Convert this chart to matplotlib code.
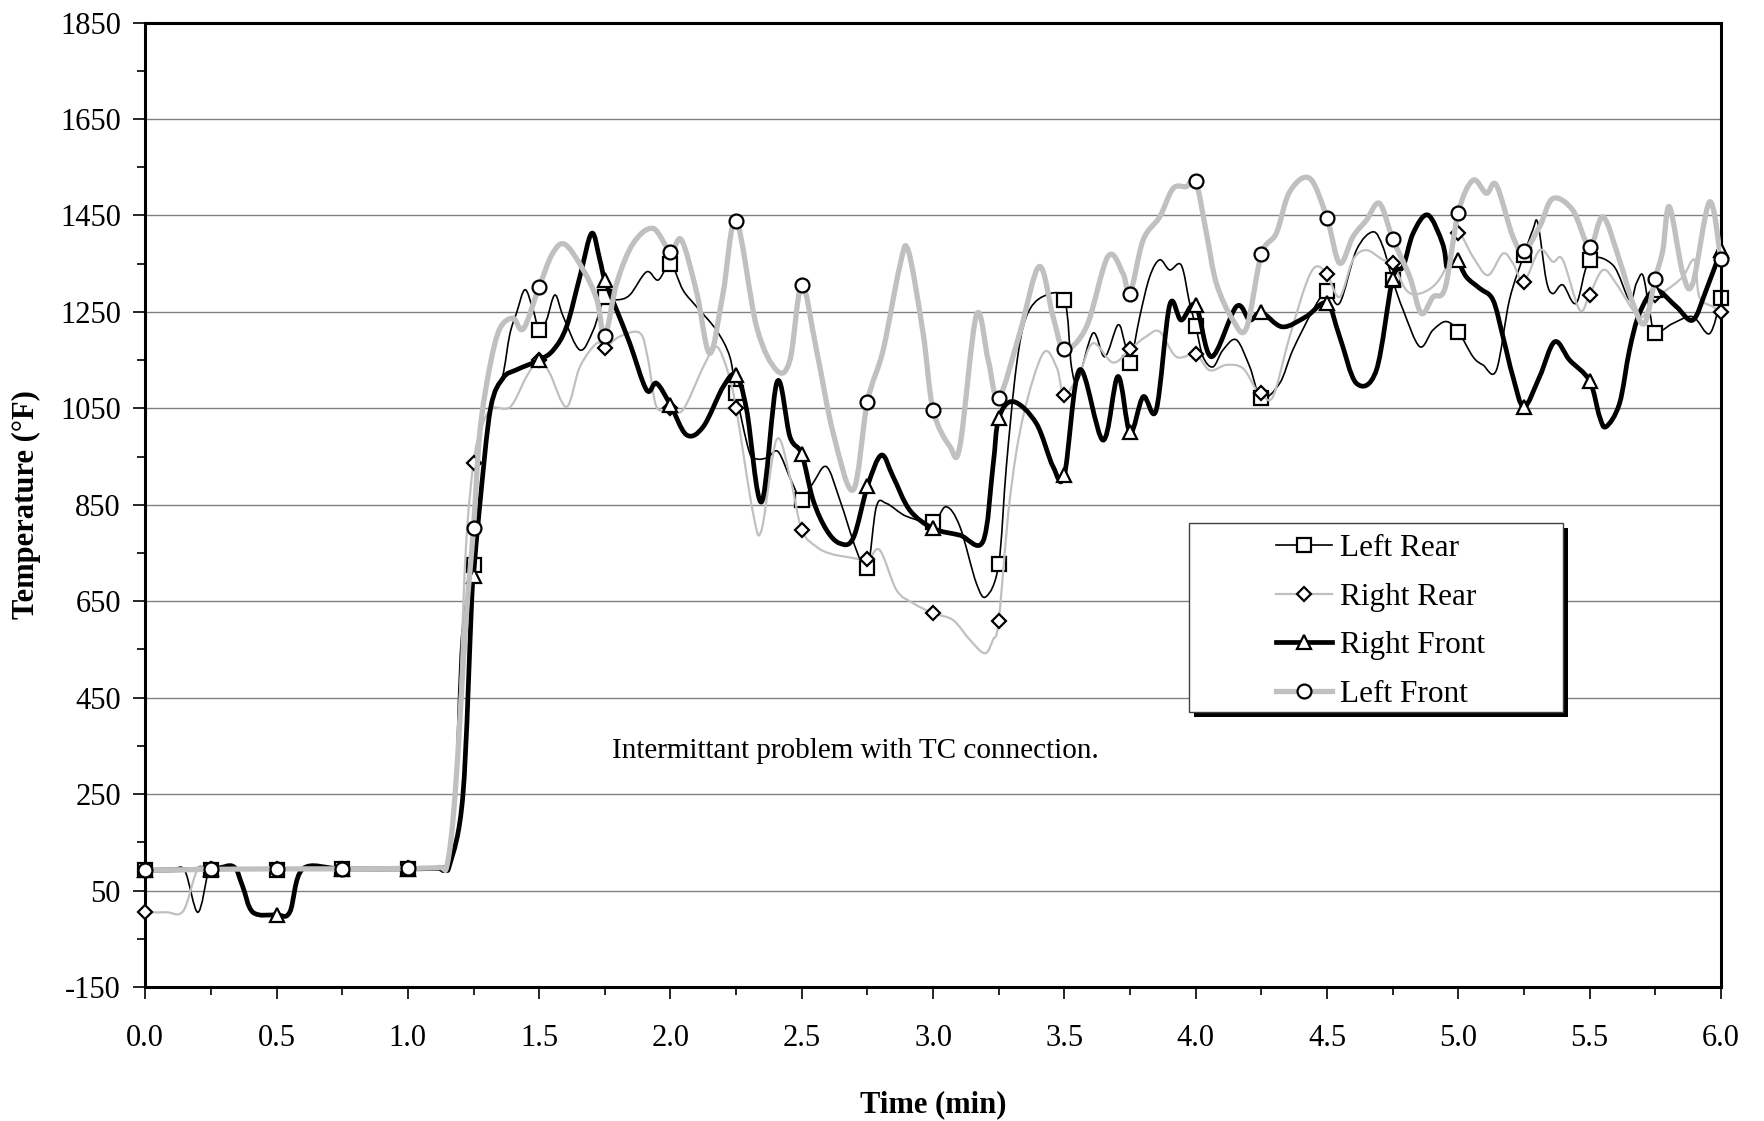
import numpy as np
import matplotlib
matplotlib.use("Agg")
from matplotlib import pyplot as plt
from matplotlib.path import Path
from matplotlib.patches import PathPatch, Rectangle
from matplotlib.lines import Line2D

# 时间 (min) 与温度 (°F) 数据
marker_t = [0.0, 0.25, 0.5, 0.75, 1.0, 1.25, 1.5, 1.75, 2.0, 2.25, 2.5, 2.75, 3.0,
            3.25, 3.5, 3.75, 4.0, 4.25, 4.5, 4.75, 5.0, 5.25, 5.5, 5.75, 6.0]

lr_marks = [92, 92, 93, 94, 95, 726, 1212, 1281, 1349, 1081, 860, 718, 815,
            727, 1275, 1143, 1221, 1071, 1294, 1316, 1209, 1368, 1357, 1207, 1278]
rr_marks = [5, 95, 95, 95, 96, 937, 1150, 1176, 1050, 1050, 798, 737, 625,
            610, 1078, 1173, 1162, 1081, 1328, 1351, 1413, 1313, 1286, 1285, 1250]
rf_marks = [92, 95, 0, 95, 95, 703, 1150, 1316, 1057, 1119, 955, 888, 801,
            1029, 912, 1000, 1264, 1249, 1268, 1319, 1357, 1053, 1107, 1295, 1378]
lf_marks = [92, 94, 95, 95, 96, 802, 1302, 1200, 1375, 1439, 1306, 1064, 1047,
            1072, 1173, 1288, 1522, 1369, 1445, 1402, 1456, 1376, 1385, 1319, 1359]

# Left Rear
lr_t = [0, 0.10, 0.15, 0.20, 0.24, 0.25, 0.35, 0.5, 0.75, 1.0, 1.10, 1.15, 1.18, 1.204,
        1.25, 1.274, 1.315, 1.36, 1.388, 1.414, 1.446, 1.477, 1.5, 1.528, 1.56, 1.592,
        1.655, 1.706, 1.75, 1.795, 1.845, 1.909, 1.953, 2.0, 2.048, 2.099, 2.175, 2.226,
        2.25, 2.30, 2.33, 2.37, 2.41, 2.46, 2.5, 2.543, 2.594, 2.645, 2.708, 2.75, 2.784,
        2.822, 2.899, 3.0, 3.05, 3.102, 3.165, 3.203, 3.25, 3.279, 3.317, 3.355, 3.419,
        3.5, 3.527, 3.552, 3.609, 3.654, 3.704, 3.73, 3.75, 3.787, 3.825, 3.863, 3.901,
        3.945, 3.977, 4.0, 4.028, 4.066, 4.104, 4.155, 4.206, 4.25, 4.32, 4.37, 4.447,
        4.5, 4.548, 4.612, 4.675, 4.713, 4.75, 4.79, 4.853, 4.903, 4.954, 5.0, 5.056,
        5.094, 5.145, 5.195, 5.25, 5.284, 5.303, 5.335, 5.36, 5.398, 5.449, 5.5, 5.589,
        5.652, 5.678, 5.703, 5.728, 5.75, 5.817, 5.893, 5.957, 6.0]
lr_v = [92, 93, 92, 5, 90, 92, 95, 93, 94, 95, 97, 100, 250, 574,
        726, 850, 1050, 1115, 1203, 1248, 1296, 1254, 1212, 1233, 1285, 1240,
        1171, 1212, 1281, 1275, 1285, 1333, 1316, 1349, 1295, 1261, 1212, 1157,
        1081, 960, 945, 948, 960, 900, 860, 895, 929, 860, 756, 718, 846,
        853, 826, 815, 846, 805, 687, 660, 727, 929, 1136, 1240, 1282,
        1275, 1136, 1109, 1206, 1157, 1223, 1185, 1143, 1240, 1323, 1358, 1337,
        1347, 1268, 1221, 1157, 1136, 1171, 1192, 1136, 1071, 1102, 1171, 1254,
        1294, 1268, 1378, 1416, 1385, 1316, 1254, 1178, 1212, 1230, 1209, 1157,
        1140, 1129, 1275, 1368, 1420, 1434, 1316, 1288, 1306, 1268, 1357, 1347,
        1275, 1309, 1326, 1254, 1207, 1226, 1240, 1205, 1278]

# Right Rear
rr_t = [0, 0.08, 0.145, 0.20, 0.25, 0.5, 0.75, 1.0, 1.12, 1.16, 1.19, 1.22, 1.25, 1.28,
        1.32, 1.39, 1.452, 1.5, 1.54, 1.604, 1.655, 1.719, 1.75, 1.807, 1.884, 1.915,
        1.947, 2.0, 2.048, 2.125, 2.175, 2.22, 2.25, 2.315, 2.347, 2.404, 2.455, 2.5,
        2.556, 2.607, 2.67, 2.75, 2.797, 2.861, 2.924, 3.0, 3.076, 3.14, 3.197, 3.228,
        3.25, 3.292, 3.343, 3.419, 3.47, 3.5, 3.558, 3.609, 3.685, 3.75, 3.812, 3.863,
        3.926, 4.0, 4.053, 4.117, 4.18, 4.231, 4.25, 4.294, 4.358, 4.421, 4.459, 4.5,
        4.548, 4.599, 4.65, 4.713, 4.75, 4.802, 4.853, 4.916, 4.967, 5.0, 5.056, 5.113,
        5.17, 5.208, 5.25, 5.31, 5.36, 5.398, 5.462, 5.5, 5.551, 5.601, 5.665, 5.703,
        5.75, 5.792, 5.855, 5.899, 5.918, 5.969, 6.0]
rr_v = [5, 5, 8, 95, 95, 95, 95, 96, 97, 110, 350, 750, 937, 1010,
        1050, 1053, 1116, 1150, 1123, 1053, 1136, 1185, 1176, 1199, 1206, 1150,
        1053, 1050, 1047, 1136, 1178, 1123, 1050, 832, 798, 985, 908, 798,
        763, 749, 742, 737, 756, 673, 646, 625, 611, 570, 542, 570,
        610, 860, 1033, 1164, 1136, 1078, 1123, 1185, 1145, 1173, 1199, 1209,
        1157, 1162, 1129, 1140, 1133, 1088, 1081, 1074, 1199, 1309, 1344, 1328,
        1281, 1358, 1378, 1358, 1351, 1295, 1288, 1309, 1358, 1413, 1364, 1326,
        1371, 1351, 1313, 1378, 1354, 1358, 1254, 1286, 1337, 1309, 1254, 1240,
        1285, 1295, 1323, 1358, 1281, 1261, 1250]

# Right Front (nan = 断线)
rf_t = [0, 0.25, 0.335, 0.37, 0.41, 0.5, 0.55, 0.60, 0.75, 1.0, 1.13, 1.16, 1.21, 1.243,
        1.25, 1.274, 1.315, 1.363, 1.414, 1.5, 1.554, 1.604, 1.655, 1.70, 1.731, 1.75,
        1.795, 1.845, 1.909, 1.947, 2.0, 2.061, 2.125, 2.201, 2.25, 2.29, 2.347, 2.406,
        2.455, 2.5, 2.543, 2.594, 2.645, 2.696, 2.75, 2.803, 2.848, 2.911, 3.0, 3.102,
        3.19, 3.228, 3.25, 3.305, 3.393, 3.457, 3.5, 3.558, 3.647, 3.704, 3.75, 3.80,
        3.85, 3.901, 3.945, 4.0, 4.06, 4.155, 4.206, 4.25, 4.33, 4.42, 4.5, 4.548,
        4.612, 4.688, 4.75, 4.79, 4.828, 4.884, 4.94, 4.955, 4.975, 5.0, 5.03, 5.081,
        5.132, 5.17, 5.208, 5.25, 5.31, 5.367, 5.424, 5.5, 5.538, 5.563, 5.614, 5.652,
        5.69, 5.75, 5.83, 5.893, 5.944, 6.0]
rf_v = [92, 95, 100, 60, 5, 0, 5, 95, 95, 95, 97, 105, 250, 650,
        703, 850, 1050, 1113, 1130, 1150, 1171, 1219, 1323, 1413, 1358, 1316,
        1254, 1185, 1088, 1102, 1057, 995, 1012, 1095, 1119, 1047, 856, 1105,
        991, 955, 860, 798, 770, 781, 888, 953, 908, 839, 801, 787,
        774, 929, 1029, 1064, 1019, 929, 912, 1130, 984, 1116, 1000, 1074,
        1047, 1264, 1233, 1264, 1157, 1261, 1233, 1249, 1219, 1240, 1268, 1199,
        1102, 1129, 1319, 1344, 1413, 1451, 1392, 1344, np.nan, 1357, 1323, 1299,
        1275, 1199, 1116, 1053, 1116, 1188, 1150, 1107, 1033, 1012, 1060, 1171,
        1247, 1295, 1261, 1233, 1295, 1378]

# Left Front
lf_t = [0, 0.25, 0.5, 0.75, 1.0, 1.12, 1.15, 1.18, 1.22, 1.25, 1.274, 1.312, 1.35, 1.40,
        1.44, 1.5, 1.55, 1.598, 1.668, 1.72, 1.75, 1.795, 1.858, 1.934, 2.0, 2.042,
        2.10, 2.15, 2.20, 2.25, 2.328, 2.404, 2.455, 2.5, 2.556, 2.62, 2.696, 2.75,
        2.81, 2.873, 2.905, 2.962, 3.0, 3.064, 3.102, 3.165, 3.21, 3.25, 3.33, 3.404,
        3.457, 3.5, 3.584, 3.666, 3.723, 3.75, 3.80, 3.863, 3.914, 3.965, 4.0, 4.041,
        4.079, 4.142, 4.193, 4.25, 4.307, 4.358, 4.434, 4.5, 4.548, 4.599, 4.65, 4.70,
        4.75, 4.815, 4.859, 4.904, 4.95, 5.0, 5.056, 5.107, 5.145, 5.208, 5.25, 5.31,
        5.36, 5.436, 5.5, 5.551, 5.614, 5.665, 5.709, 5.75, 5.779, 5.804, 5.855, 5.893,
        5.957, 6.0]
lf_v = [92, 94, 95, 95, 96, 98, 105, 250, 600, 802, 1000, 1136, 1215, 1237,
        1215, 1302, 1370, 1390, 1337, 1275, 1200, 1309, 1392, 1423, 1375, 1399,
        1290, 1164, 1288, 1439, 1219, 1129, 1150, 1306, 1171, 998, 881, 1064,
        1171, 1344, 1378, 1206, 1047, 971, 971, 1243, 1150, 1072, 1206, 1344,
        1240, 1173, 1219, 1365, 1330, 1288, 1399, 1447, 1506, 1510, 1522, 1413,
        1309, 1233, 1216, 1369, 1413, 1499, 1527, 1445, 1351, 1406, 1440, 1475,
        1402, 1323, 1247, 1281, 1300, 1456, 1523, 1496, 1513, 1406, 1376, 1427,
        1485, 1461, 1385, 1447, 1357, 1268, 1226, 1319, 1378, 1468, 1330, 1309,
        1478, 1359]

y_ticks = [-150, 50, 250, 450, 650, 850, 1050, 1250, 1450, 1650, 1850]
x_ticks = [0.0, 0.5, 1.0, 1.5, 2.0, 2.5, 3.0, 3.5, 4.0, 4.5, 5.0, 5.5, 6.0]

GRAY = '#c0c0c0'


def smooth_path(xs, ys):
    # Excel 式平滑线: Catmull-Rom -> 三次贝塞尔
    pts = np.column_stack([xs, ys])
    n = len(pts)
    verts = [pts[0]]
    codes = [Path.MOVETO]
    for i in range(n - 1):
        p0 = pts[max(i - 1, 0)]
        p1 = pts[i]
        p2 = pts[i + 1]
        p3 = pts[min(i + 2, n - 1)]
        verts += [p1 + (p2 - p0) / 6.0, p2 - (p3 - p1) / 6.0, p2]
        codes += [Path.CURVE4] * 3
    return Path(verts, codes)


def draw_series(ax, t, v, t_m, v_m, color, lw, marker, ms, z):
    t = np.asarray(t, float)
    v = np.asarray(v, float)
    # 遇到 nan 断开
    ok = ~np.isnan(v)
    idx = np.flatnonzero(np.diff(np.concatenate([[0], ok.astype(int), [0]])))
    for a, b in zip(idx[::2], idx[1::2]):
        path = smooth_path(t[a:b], v[a:b])
        ax.add_patch(PathPatch(path, fill=False, edgecolor=color, lw=lw,
                               capstyle='round', joinstyle='round', zorder=z))
    ax.plot(t_m, v_m, linestyle='none', marker=marker, ms=ms, mfc='white',
            mec='black', mew=1.6, zorder=z + 0.5, clip_on=False)


def main():
    plt.rcParams['font.family'] = ['Liberation Serif', 'DejaVu Serif']
    plt.rcParams['font.size'] = 22
    plt.rcParams['axes.unicode_minus'] = False

    fig = plt.figure(figsize=(17.65, 11.21), dpi=100)
    ax = fig.add_axes([0.0823, 0.1195, 0.8927, 0.8604])

    draw_series(ax, lr_t, lr_v, marker_t, lr_marks, 'black', 1.2, 's', 9.5, 2)
    draw_series(ax, rr_t, rr_v, marker_t, rr_marks, GRAY, 1.6, 'D', 7.5, 3)
    draw_series(ax, rf_t, rf_v, marker_t, rf_marks, 'black', 3.4, '^', 9.5, 4)
    draw_series(ax, lf_t, lf_v, marker_t, lf_marks, GRAY, 3.8, 'o', 10, 5)

    ax.set_xlim(0, 6)
    ax.set_ylim(-150, 1850)
    ax.set_xticks(x_ticks)
    ax.set_xticklabels(['%.1f' % x for x in x_ticks])
    ax.set_xticks(np.arange(0.25, 6, 0.5), minor=True)
    ax.set_yticks(y_ticks)
    ax.set_yticks(np.arange(-50, 1850, 200), minor=True)
    ax.tick_params(axis='both', which='major', direction='out', length=8.5,
                   width=1.2, labelsize=22)
    ax.tick_params(axis='both', which='minor', direction='out', length=6, width=1.2)
    ax.tick_params(axis='y', which='major', pad=9)
    ax.tick_params(axis='x', which='major', pad=18)

    ax.yaxis.grid(True, color='#808080', lw=1.0)
    ax.set_axisbelow(True)
    for s in ax.spines.values():
        s.set_linewidth(2.2)
        s.set_color('black')

    ax.set_xlabel('Time (min)', fontweight='bold', fontsize=22)
    ax.xaxis.set_label_coords(0.5, -0.107)
    ax.set_ylabel('Temperature (°F)', fontweight='bold', fontsize=22)
    ax.yaxis.set_label_coords(-0.066, 0.5)

    # 标题几乎全在图外, 只露出一点下沿
    fig.text(0.546, 1.0, 'Temperatures', ha='center', va='bottom',
             fontweight='bold', fontsize=22)

    ax.text(2.706, 340, 'Intermittant problem with TC connection.', ha='center',
            va='center', fontsize=21)

    # 图例框 + 阴影
    bx, by, bw, bh = 0.6624, 0.2851, 0.2373, 0.1963
    sh = Rectangle((bx + 0.0032, by - 0.005), bw, bh, transform=ax.transAxes,
                   facecolor='black', edgecolor='none', zorder=9)
    box = Rectangle((bx, by), bw, bh, transform=ax.transAxes, facecolor='white',
                    edgecolor='#404040', lw=1.0, zorder=10)
    ax.add_patch(sh)
    ax.add_patch(box)

    handles = [
        Line2D([], [], color='black', lw=1.2, marker='s', ms=9.5, mfc='white', mec='black', mew=1.6),
        Line2D([], [], color=GRAY, lw=1.6, marker='D', ms=7.5, mfc='white', mec='black', mew=1.6),
        Line2D([], [], color='black', lw=3.4, marker='^', ms=9.5, mfc='white', mec='black', mew=1.6),
        Line2D([], [], color=GRAY, lw=3.8, marker='o', ms=10, mfc='white', mec='black', mew=1.6),
    ]
    leg = ax.legend(handles, ['Left Rear', 'Right Rear', 'Right Front', 'Left Front'],
                    loc='center', bbox_to_anchor=(0.784, 0.379), frameon=False,
                    fontsize=22.5, handlelength=1.8, handletextpad=0.25,
                    labelspacing=0.62, numpoints=1, borderpad=0.2)
    leg.set_zorder(11)

    fig.savefig('out.png', dpi=100)


if __name__ == "__main__":
    main()
